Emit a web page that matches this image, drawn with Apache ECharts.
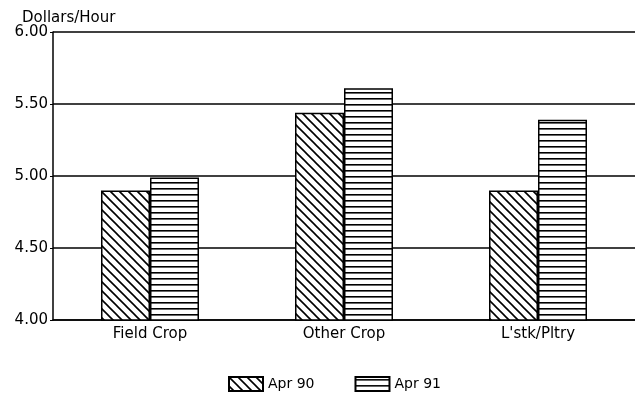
<!DOCTYPE html>
<html>
<head>
<meta charset="utf-8">
<script src="https://cdn.jsdelivr.net/npm/echarts@6/dist/echarts.min.js"></script>
<style>
  html, body { margin: 0; padding: 0; background: #fff; }
  #myChart { width: 635px; height: 401px; }
</style>
</head>
<body>
<div id="myChart"></div>
<script>
// data
var categories = ['Field Crop', 'Other Crop', "L'stk/Pltry"];
var apr90 = [4.90, 5.44, 4.90];
var apr91 = [4.99, 5.61, 5.39];
var seriesNames = ['Apr 90', 'Apr 91'];

// hatch patterns
function diagPattern() {
  var c = document.createElement('canvas');
  c.width = 9; c.height = 9;
  var g = c.getContext('2d');
  g.fillStyle = '#fff'; g.fillRect(0, 0, 9, 9);
  g.strokeStyle = '#000'; g.lineWidth = 1.6;
  g.beginPath();
  g.moveTo(-1, -1); g.lineTo(10, 10);
  g.moveTo(-10, -1); g.lineTo(1, 10);
  g.moveTo(8, -1); g.lineTo(19, 10);
  g.stroke();
  return c;
}
function horizPattern() {
  var c = document.createElement('canvas');
  c.width = 8; c.height = 6;
  var g = c.getContext('2d');
  g.fillStyle = '#fff'; g.fillRect(0, 0, 8, 6);
  g.fillStyle = '#000'; g.fillRect(0, 2, 8, 1.6);
  return c;
}

var font = 'DejaVu Sans';
var myChart = echarts.init(document.getElementById('myChart'));

myChart.setOption({
  backgroundColor: '#fff',
  animation: false,
  textStyle: { fontFamily: font, color: '#000' },
  title: {
    text: 'Dollars/Hour',
    left: 17, top: 6,
    textStyle: { fontFamily: font, fontSize: 15, fontWeight: 'normal', color: '#000' }
  },
  legend: {
    data: seriesNames,
    top: 371, left: 223,
    icon: 'rect',
    itemWidth: 34, itemHeight: 14, itemGap: 40,
    textStyle: { fontFamily: font, fontSize: 14, color: '#000' }
  },
  grid: { left: 53, top: 32, width: 586, height: 288 },
  xAxis: {
    type: 'category',
    data: categories,
    axisLine: { lineStyle: { color: '#000', width: 1.5 } },
    axisTick: { show: false },
    axisLabel: { color: '#000', fontFamily: font, fontSize: 15, margin: 7 }
  },
  yAxis: {
    type: 'value',
    min: 4, max: 6, interval: 0.5,
    axisLine: { show: true, lineStyle: { color: '#000', width: 1.5 } },
    axisTick: { show: true, length: 3, lineStyle: { color: '#000' } },
    axisLabel: {
      color: '#000', fontFamily: font, fontSize: 15, margin: 5,
      formatter: function (v) { return v.toFixed(2); }
    },
    splitLine: { lineStyle: { color: '#000', width: 1.5 } }
  },
  series: [
    {
      name: seriesNames[0], type: 'bar', data: apr90,
      barWidth: 49, barGap: '0%',
      itemStyle: { color: { image: diagPattern(), repeat: 'repeat' }, borderColor: '#000', borderWidth: 1.5 }
    },
    {
      name: seriesNames[1], type: 'bar', data: apr91,
      barWidth: 49,
      itemStyle: { color: { image: horizPattern(), repeat: 'repeat' }, borderColor: '#000', borderWidth: 1.5 }
    }
  ]
});
</script>
</body>
</html>
